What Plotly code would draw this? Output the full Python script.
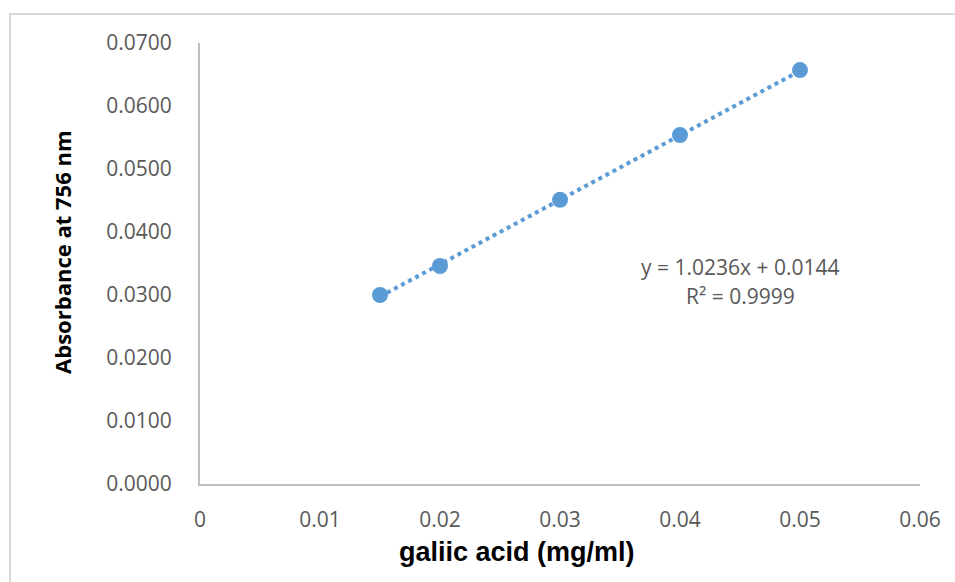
import plotly.graph_objects as go

# Data
concentration = [0.015, 0.02, 0.03, 0.04, 0.05]          # gallic acid (mg/ml)
absorbance = [0.0300, 0.0346, 0.0451, 0.0554, 0.0657]    # absorbance at 756 nm

# Linear trendline coefficients shown on the chart
slope = 1.0236
intercept = 0.0144
r_squared = 0.9999

x_ticks = [0, 0.01, 0.02, 0.03, 0.04, 0.05, 0.06]
y_ticks = [0, 0.01, 0.02, 0.03, 0.04, 0.05, 0.06, 0.07]

x_title = "galiic acid (mg/ml)"
y_title = "Absorbance at 756 nm"

blue = "#5b9bd5"
tick_color = "#595959"
axis_color = "#bfbfbf"

trend_x = [min(concentration), max(concentration)]
trend_y = [slope * v + intercept for v in trend_x]

fig = go.Figure()
fig.add_trace(go.Scatter(
    x=trend_x, y=trend_y, mode="lines",
    line=dict(color=blue, width=4, dash="4px,4px"),
    hoverinfo="skip", showlegend=False,
))
fig.add_trace(go.Scatter(
    x=concentration, y=absorbance, mode="markers",
    marker=dict(color=blue, size=16, line=dict(width=0)),
    showlegend=False,
))

fig.add_annotation(
    x=0.045, y=0.0344, xref="x", yref="y",
    text=f"y = {slope:.4f}x + {intercept:.4f}",
    showarrow=False, font=dict(family="Open Sans", size=21, color=tick_color),
    xanchor="center", yanchor="middle",
)
fig.add_annotation(
    x=0.045, y=0.0298, xref="x", yref="y",
    text=f"R² = {r_squared:.4f}",
    showarrow=False, font=dict(family="Open Sans", size=21, color=tick_color),
    xanchor="center", yanchor="middle",
)

# axis titles (placed like the Excel chart, off-centre from the plot area)
fig.add_annotation(
    x=0.44, y=0, xref="paper", yref="paper", yshift=-68,
    text=x_title, showarrow=False,
    font=dict(family="Liberation Sans", size=27, color="black", weight="bold"),
    xanchor="center", yanchor="middle",
)
fig.add_annotation(
    x=0, y=0.524, xref="paper", yref="paper", xshift=-138,
    text=y_title, showarrow=False, textangle=-90,
    font=dict(family="Open Sans", size=22, color="black", weight="bold"),
    xanchor="center", yanchor="middle",
)

# chart-area frame
fig.add_shape(type="rect", xref="paper", yref="paper",
              x0=-0.2639, x1=1.2, y0=-0.5, y1=1.0658,
              line=dict(color="#d9d9d9", width=2), fillcolor="rgba(0,0,0,0)", layer="below")

fig.update_layout(
    width=955, height=582,
    margin=dict(l=200, r=35, t=43, b=98),
    paper_bgcolor="white", plot_bgcolor="white",
    font=dict(family="Open Sans", color=tick_color),
    xaxis=dict(
        range=[0, 0.06], tickvals=x_ticks,
        ticktext=[("0" if v == 0 else f"{v:g}") for v in x_ticks],
        showgrid=False, zeroline=False, showline=True, linecolor=axis_color, linewidth=2,
        ticks="", ticklabelstandoff=16,
        tickfont=dict(family="Open Sans", size=21, color=tick_color),
    ),
    yaxis=dict(
        range=[0, 0.07], tickvals=y_ticks,
        ticktext=[f"{v:.4f}" for v in y_ticks],
        showgrid=False, zeroline=False, showline=True, linecolor=axis_color, linewidth=2,
        ticks="", ticklabelstandoff=22,
        tickfont=dict(family="Open Sans", size=21, color=tick_color),
    ),
)

fig.write_html("out.html")
